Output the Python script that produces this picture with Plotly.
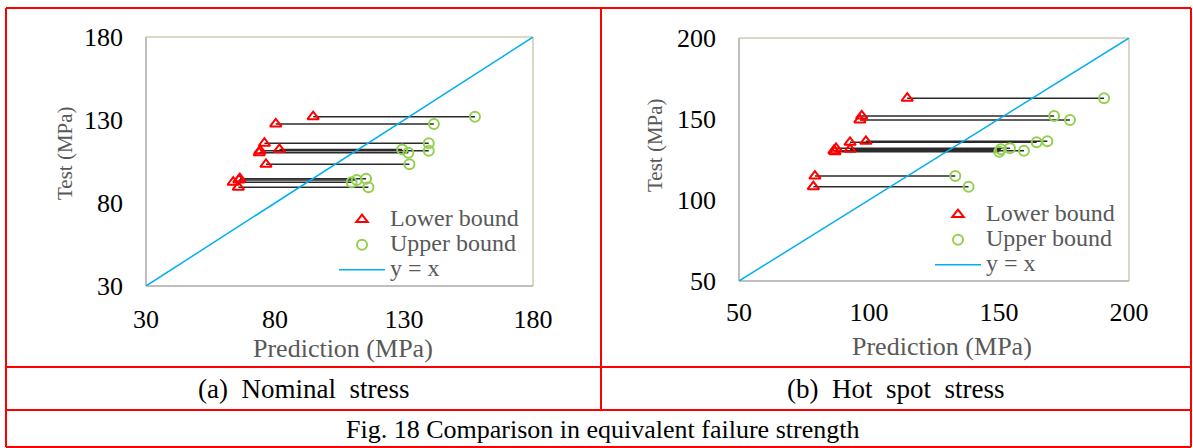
import plotly.graph_objects as go

# ---------------- data ----------------
# (a) Nominal stress
a_test = [132.0, 127.6, 116.0, 112.3, 111.5, 110.3, 103.3, 94.6, 93.9, 92.5, 89.5]
a_lower = [94.8, 80.3, 75.9, 81.7, 74.2, 73.9, 76.5, 66.4, 66.0, 63.8, 65.8]
a_upper = [157.5, 141.6, 139.6, 129.3, 139.6, 131.7, 132.1, 115.3, 111.7, 109.7, 116.2]
a_range = [30, 180]
a_ticks = [30, 80, 130, 180]

# (b) Hot spot stress
b_test = [162.8, 151.9, 149.4, 136.2, 135.6, 131.9, 131.3, 130.4, 129.8, 114.8, 108.2]
b_lower = [114.7, 97.2, 96.5, 98.8, 92.7, 87.3, 92.7, 86.5, 86.9, 79.2, 78.6]
b_upper = [190.4, 171.2, 177.3, 168.6, 164.5, 154.2, 150.7, 159.6, 150.1, 133.2, 138.3]
b_range = [50, 200]
b_ticks = [50, 100, 150, 200]

series_names = ["Lower bound", "Upper bound", "y = x"]
panel_titles = ["(a)  Nominal  stress", "(b)  Hot  spot  stress"]
fig_caption = "Fig. 18 Comparison in equivalent failure strength"
x_title = "Prediction (MPa)"
y_title = "Test (MPa)"

# ---------------- styling ----------------
W, H = 1193, 448
FONT = "Liberation Serif, Times New Roman, serif"
RED = "#ff0000"
GREEN = "#92d050"
BLUE = "#00b0f0"
GRAY_TXT = "#595959"
AXIS_GRAY = "#bfbfbf"
FRAME_BEIGE = "#dcd8c6"


def px_x(p):
    return p / W


def px_y(p):
    return 1 - p / H


def leg_name(s):
    # legend text drawn at 24px while the legend rows stay compact
    return '<span style="font-size:24px">' + s + '</span>'


fig = go.Figure()


def add_panel(test, lower, upper, rng, xa, ya, legend):
    seg_x, seg_y = [], []
    for lo, up, t in zip(lower, upper, test):
        seg_x += [lo, up, None]
        seg_y += [t, t, None]
    fig.add_trace(go.Scatter(x=seg_x, y=seg_y, mode="lines", xaxis=xa, yaxis=ya,
                             line=dict(color="#2b2b2b", width=1.5),
                             showlegend=False, hoverinfo="skip"))
    fig.add_trace(go.Scatter(x=rng, y=rng, mode="lines", xaxis=xa, yaxis=ya,
                             name=leg_name(series_names[2]), legend=legend, legendrank=3,
                             line=dict(color=BLUE, width=1.5), showlegend=True))
    fig.add_trace(go.Scatter(x=lower, y=test, mode="markers", xaxis=xa, yaxis=ya,
                             name=leg_name(series_names[0]), legend=legend, legendrank=1,
                             marker=dict(symbol="triangle-up-open", size=10, color=RED,
                                         line=dict(width=2, color=RED))))
    fig.add_trace(go.Scatter(x=upper, y=test, mode="markers", xaxis=xa, yaxis=ya,
                             name=leg_name(series_names[1]), legend=legend, legendrank=2,
                             marker=dict(symbol="circle-open", size=10, color=GREEN,
                                         line=dict(width=2, color=GREEN))))


add_panel(a_test, a_lower, a_upper, a_range, "x", "y", "legend")
add_panel(b_test, b_lower, b_upper, b_range, "x2", "y2", "legend2")

tickfont = dict(family=FONT, size=26, color="black")
axis_common = dict(showgrid=False, zeroline=False, showline=False, ticks="",
                   tickfont=tickfont, fixedrange=True, automargin=False)

legend_font = dict(family=FONT, size=17, color=GRAY_TXT)

fig.update_layout(
    width=W, height=H,
    margin=dict(l=0, r=0, t=0, b=0, autoexpand=False),
    paper_bgcolor="white", plot_bgcolor="white",
    font=dict(family=FONT),
    xaxis=dict(domain=[px_x(146), px_x(533)], range=a_range, tickvals=a_ticks,
               anchor="y", ticklabelstandoff=15, **axis_common),
    yaxis=dict(domain=[px_y(286), px_y(37)], range=a_range, tickvals=a_ticks,
               anchor="x", ticklabelstandoff=22, **axis_common),
    xaxis2=dict(domain=[px_x(739), px_x(1129)], range=b_range, tickvals=b_ticks,
                anchor="y2", ticklabelstandoff=13, **axis_common),
    yaxis2=dict(domain=[px_y(281), px_y(38)], range=b_range, tickvals=b_ticks,
                anchor="x2", ticklabelstandoff=22, **axis_common),
    legend=dict(x=px_x(334), y=px_y(202), xanchor="left", yanchor="top",
                font=legend_font, bgcolor="rgba(0,0,0,0)", tracegroupgap=0,
                itemwidth=46),
    legend2=dict(x=px_x(930), y=px_y(197), xanchor="left", yanchor="top",
                 font=legend_font, bgcolor="rgba(0,0,0,0)", tracegroupgap=0,
                 itemwidth=46),
    showlegend=True,
)

shapes = []
# plot frames: gray left/bottom, beige top/right
for xr, yr in (("x domain", "y domain"), ("x2 domain", "y2 domain")):
    shapes.append(dict(type="line", xref=xr, yref=yr, x0=0, x1=1, y0=1, y1=1,
                       line=dict(color=FRAME_BEIGE, width=2), layer="below"))
    shapes.append(dict(type="line", xref=xr, yref=yr, x0=1, x1=1, y0=0, y1=1,
                       line=dict(color=FRAME_BEIGE, width=2), layer="below"))
    shapes.append(dict(type="line", xref=xr, yref=yr, x0=0, x1=1, y0=0, y1=0,
                       line=dict(color=AXIS_GRAY, width=2), layer="below"))
    shapes.append(dict(type="line", xref=xr, yref=yr, x0=0, x1=0, y0=0, y1=1,
                       line=dict(color=AXIS_GRAY, width=2), layer="below"))


def hline(py, x0p, x1p):
    shapes.append(dict(type="line", xref="paper", yref="paper", x0=px_x(x0p), x1=px_x(x1p),
                       y0=px_y(py), y1=px_y(py), line=dict(color=RED, width=2)))


def vline(pxx, y0p, y1p):
    shapes.append(dict(type="line", xref="paper", yref="paper", x0=px_x(pxx), x1=px_x(pxx),
                       y0=px_y(y0p), y1=px_y(y1p), line=dict(color=RED, width=2)))


# red table grid
hline(8, 6, 1191)
hline(367, 6, 1191)
hline(410, 6, 1191)
hline(447, 6, 1191)
vline(6, 8, 447)
vline(1191, 8, 447)
vline(601, 8, 410)
fig.update_layout(shapes=shapes)

annotations = []
for xc, yc in ((343, 348), (942, 346)):
    annotations.append(dict(text=x_title, x=px_x(xc), y=px_y(yc), xref="paper", yref="paper",
                            showarrow=False, xanchor="center", yanchor="middle",
                            font=dict(family=FONT, size=26, color=GRAY_TXT)))
for xc, yc in ((65, 153), (655, 145)):
    annotations.append(dict(text=y_title, x=px_x(xc), y=px_y(yc), xref="paper", yref="paper",
                            showarrow=False, xanchor="center", yanchor="middle", textangle=-90,
                            font=dict(family=FONT, size=21, color=GRAY_TXT)))
for txt, xc in zip(panel_titles, (303, 896)):
    annotations.append(dict(text=txt, x=px_x(xc), y=px_y(389), xref="paper", yref="paper",
                            showarrow=False, xanchor="center", yanchor="middle",
                            font=dict(family=FONT, size=27, color="black")))
annotations.append(dict(text=fig_caption, x=px_x(602), y=px_y(429), xref="paper", yref="paper",
                        showarrow=False, xanchor="center", yanchor="middle",
                        font=dict(family=FONT, size=26, color="black")))
fig.update_layout(annotations=annotations)

# page has a default 8px body margin; remove it so the figure fills the window exactly
fig.write_html("out.html", config={"displayModeBar": False},
               post_script="document.body.style.margin='0';document.body.style.overflow='hidden';")
